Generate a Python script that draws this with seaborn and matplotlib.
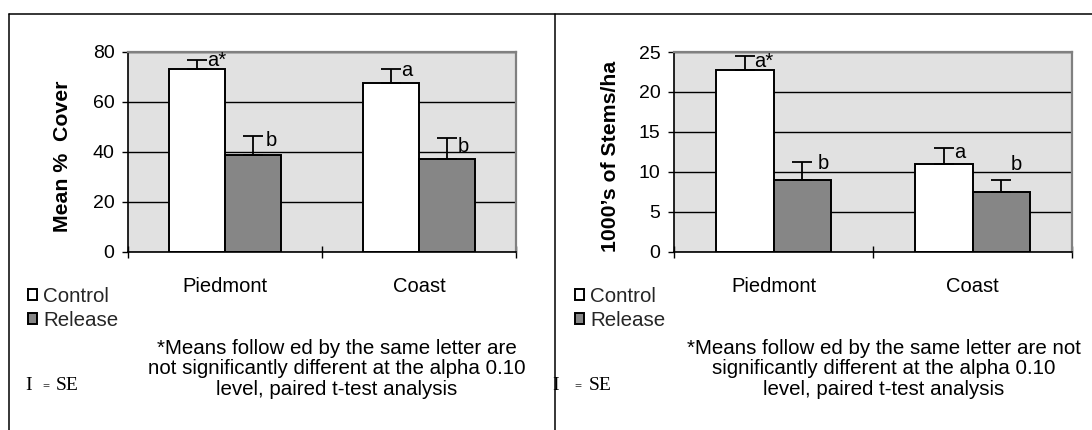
import matplotlib
matplotlib.use("Agg")
import matplotlib.pyplot as plt
import seaborn as sns
import pandas as pd
from matplotlib.lines import Line2D
from matplotlib.container import BarContainer

# ---------------- data ----------------
regions = ["Piedmont", "Coast"]
treatments = ["Control", "Release"]

cover_control = [73.3, 67.7]
cover_release = [38.8, 37.3]
cover_se_control = [3.4, 5.6]
cover_se_release = [7.6, 8.4]
cover_letters_control = ["a*", "a"]
cover_letters_release = ["b", "b"]
cover_yticks = [0, 20, 40, 60, 80]

stems_control = [22.7, 11.0]
stems_release = [9.0, 7.5]
stems_se_control = [1.75, 2.0]
stems_se_release = [2.2, 1.5]
stems_letters_control = ["a*", "a"]
stems_letters_release = ["b", "b"]
stems_yticks = [0, 5, 10, 15, 20, 25]

cover_ylabel = "Mean %  Cover"
stems_ylabel = "1000\u2019s of Stems/ha"
note_left = ("*Means follow ed by the same letter are\n"
             "not significantly different at the alpha 0.10\n"
             "level, paired t-test analysis")
note_right = ("*Means follow ed by the same letter are not\n"
              "significantly different at the alpha 0.10\n"
              "level, paired t-test analysis")
se_bar, se_eq, se_word = "I", "=", "SE"

# ---------------- style ----------------
W, H = 1092, 430
sns.set_theme(style="white")
plt.rcParams["font.family"] = ["Liberation Sans", "DejaVu Sans"]
FS = 14
SERIF = ["Liberation Serif", "DejaVu Serif"]

fig = plt.figure(figsize=(W / 100, H / 100), dpi=100)
fig.patch.set_facecolor("white")


def make_df(ctrl, rel):
    rows = []
    for i, r in enumerate(regions):
        rows.append({"region": r, "treatment": treatments[0], "value": ctrl[i]})
        rows.append({"region": r, "treatment": treatments[1], "value": rel[i]})
    return pd.DataFrame(rows)


def panel(rect, ctrl, rel, se_c, se_r, let_c, let_r, yticks, ylabel,
          ylabel_x, let_offsets):
    ax = fig.add_axes(rect)
    df = make_df(ctrl, rel)
    sns.barplot(data=df, x="region", y="value", hue="treatment",
                order=regions, hue_order=treatments,
                palette=["white", "#868686"], edgecolor="black",
                linewidth=1.4, width=0.58, errorbar=None, saturation=1,
                ax=ax, legend=True)
    handles, labels = ax.get_legend_handles_labels()
    ax.get_legend().remove()

    ax.set_facecolor("#e1e1e1")
    ax.set_xlim(-0.5, 1.5)
    ax.set_ylim(yticks[0], yticks[-1])
    ax.set_yticks(yticks)
    ax.yaxis.grid(True, color="black", linewidth=1.0)
    ax.xaxis.grid(False)
    ax.set_axisbelow(True)

    # error bars and letters, placed from the bars drawn by seaborn
    ses = [se_c, se_r]
    lets = [let_c, let_r]
    bar_conts = [c for c in ax.containers if isinstance(c, BarContainer)]
    for k, cont in enumerate(bar_conts):
        xs = [p.get_x() + p.get_width() / 2 for p in cont.patches]
        hs = [p.get_height() for p in cont.patches]
        ax.errorbar(xs, hs, yerr=[[0] * len(hs), ses[k]], fmt="none",
                    ecolor="black", elinewidth=1.3, capsize=7,
                    capthick=1.3, zorder=4)
        for j, (x, h) in enumerate(zip(xs, hs)):
            dx, dy = let_offsets[k][j]
            ax.annotate(lets[k][j], (x, h + ses[k][j]),
                        xytext=(dx, dy), textcoords="offset pixels",
                        ha="left", va="center", fontsize=FS + 0.5,
                        color="black")

    # x axis: ticks between categories, labels at category centres
    ax.set_xticks([-0.5, 0.5, 1.5], labels=["", "", ""])
    ax.set_xticks([0, 1], labels=regions, minor=True)
    ax.tick_params(axis="x", which="major", direction="inout", length=8,
                   width=1.0, color="black", bottom=True)
    ax.tick_params(axis="x", which="minor", length=0, pad=18,
                   labelsize=FS + 0.5, labelcolor="black", bottom=True)
    ax.tick_params(axis="y", direction="out", length=4.3, width=1.0,
                   color="black", left=True, pad=5.5, labelsize=FS,
                   labelcolor="black")
    ax.set_xlabel("")
    ax.set_ylabel(ylabel, fontsize=FS + 1.3, fontweight="bold",
                  color="black", va="center")
    ax.yaxis.set_label_coords(ylabel_x, 0.48)

    for s in ("left", "bottom"):
        ax.spines[s].set_color("black")
        ax.spines[s].set_linewidth(1.2)
    for s in ("top", "right"):
        ax.spines[s].set_color("#808080")
        ax.spines[s].set_linewidth(1.6)
        ax.spines[s].set_visible(True)
    return ax, handles, labels


ax_b = (430 - 252) / H
ax_h = 200 / H

left_offsets = [[(10, 0), (10, -2)], [(13, -4), (11, -9)]]
right_offsets = [[(9, -5), (10, -4)], [(15, -1), (9, 15)]]

ax1, h1, l1 = panel([128 / W, ax_b, 388 / W, ax_h], cover_control,
                    cover_release, cover_se_control, cover_se_release,
                    cover_letters_control, cover_letters_release,
                    cover_yticks, cover_ylabel, -0.168, left_offsets)
ax2, h2, l2 = panel([674 / W, ax_b, 398 / W, ax_h], stems_control,
                    stems_release, stems_se_control, stems_se_release,
                    stems_letters_control, stems_letters_release,
                    stems_yticks, stems_ylabel, -0.160, right_offsets)

# legends
for hx, handles, labels in ((28, h1, l1), (575, h2, l2)):
    fig.legend(handles, labels, loc="upper left",
               bbox_to_anchor=(hx / W, 1 - 287 / H), frameon=False,
               fontsize=FS + 0.8, handlelength=0.45, handleheight=0.45,
               handletextpad=0.3, labelspacing=0.25, borderpad=0,
               borderaxespad=0)

# footnotes
fig.text(337 / W, 1 - 369 / H, note_left, ha="center", va="center",
         fontsize=FS + 0.8, linespacing=1.08, color="black")
fig.text(884 / W, 1 - 369 / H, note_right, ha="center", va="center",
         fontsize=FS + 0.8, linespacing=1.08, color="black")

# "I = SE" key
for xi, xe, xs in ((25, 42, 56), (552, 574, 589)):
    fig.text(xi / W, 1 - 385 / H, se_bar, ha="left", va="center",
             fontsize=14, family=SERIF, color="black")
    fig.text(xe / W, 1 - 386 / H, se_eq, ha="left", va="center",
             fontsize=9, family=SERIF, color="black")
    fig.text(xs / W, 1 - 385 / H, se_word, ha="left", va="center",
             fontsize=14, family=SERIF, color="black")

# panel frame lines
frame_kw = dict(color="black", linewidth=1.1, transform=fig.transFigure)
fig.add_artist(Line2D([9 / W, 1], [1 - 14 / H, 1 - 14 / H], **frame_kw))
fig.add_artist(Line2D([9 / W, 9 / W], [0, 1 - 14 / H], **frame_kw))
fig.add_artist(Line2D([555 / W, 555 / W], [0, 1 - 14 / H], **frame_kw))

fig.savefig("out.png", dpi=100, facecolor="white")
